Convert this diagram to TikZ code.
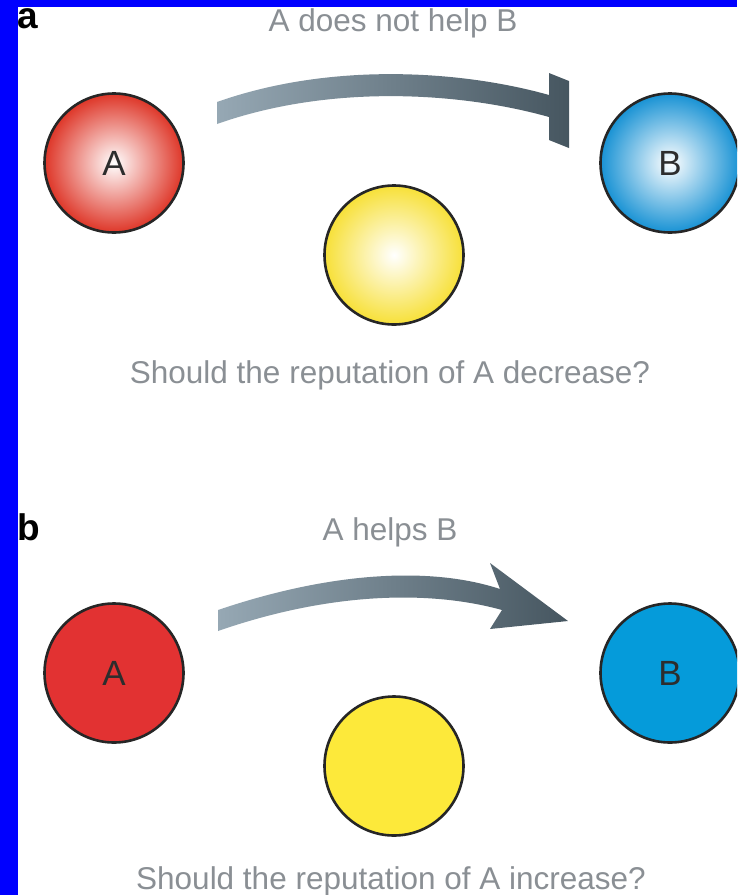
\documentclass[tikz,border=0pt]{standalone}
\usepackage{fontspec}
\setmainfont{Liberation Sans}
\definecolor{frameblue}{RGB}{0,0,255}
\definecolor{txtgray}{RGB}{138,143,148}
\definecolor{txtdark}{RGB}{45,45,45}
\definecolor{edgecol}{RGB}{38,38,38}
\definecolor{redA}{RGB}{222,54,40}
\definecolor{blueA}{RGB}{24,146,212}
\definecolor{yelA}{RGB}{247,224,56}
\definecolor{redB}{RGB}{226,50,50}
\definecolor{blueB}{RGB}{5,155,218}
\definecolor{yelB}{RGB}{253,233,58}
\definecolor{arrL}{RGB}{150,168,180}
\definecolor{arrR}{RGB}{70,86,96}
\begin{document}
\begin{tikzpicture}[x=1pt,y=-1pt,
  ball/.style={circle, draw=edgecol, line width=2.6pt, minimum size=139pt, inner sep=0pt,
    font=\fontsize{35}{40}\selectfont, text=txtdark},
  caption/.style={anchor=base, inner sep=0pt, text=txtgray, font=\fontsize{31.5}{36}\selectfont},
  panel/.style={anchor=base west, inner sep=0pt, text=black, font=\fontsize{37}{40}\selectfont\bfseries},
  arrowshape/.style={left color=arrL, right color=arrR, draw=none}]
\useasboundingbox (0,0) rectangle (737,895);
\clip (0,0) rectangle (737,895);
\fill[frameblue] (0,0) rectangle (737,895);
\fill[white] (18,7) rectangle (737,895);

% ---------- panel a ----------
\node[panel] (la) at (17,28) {a};
\node[caption] (ta) at (393,31) {A does not help B};
\node[ball, inner color=white, outer color=redA] (Aa) at (114,163) {A};
\node[ball, inner color=white, outer color=blueA] (Ba) at (670,163) {B};
\node[ball, inner color=white, outer color=yelA] (Ya) at (394,255) {};
\node[caption] (qa) at (390,383) {Should the reputation of A decrease?};
\shade[arrowshape] (217,102) .. controls (330,62) and (460,70) .. (549,95)
  -- (549,73) -- (569,81) -- (569,148) -- (549,140) -- (549,117)
  .. controls (460,92) and (330,84) .. (217,124) -- cycle;

% ---------- panel b ----------
\node[panel] (lb) at (17,540) {b};
\node[caption] (tb) at (390,540) {A helps B};
\node[ball, fill=redB] (Ab) at (114,673) {A};
\node[ball, fill=blueB] (Bb) at (670,673) {B};
\node[ball, fill=yelB] (Yb) at (394,766) {};
\node[caption] (qb) at (391,889) {Should the reputation of A increase?};
\shade[arrowshape] (218,610) .. controls (330,572) and (430,566) .. (500,589)
  -- (490,563) -- (568,621) -- (490,629) -- (502,610)
  .. controls (430,590) and (330,592) .. (218,631) -- cycle;
\end{tikzpicture}
\end{document}
